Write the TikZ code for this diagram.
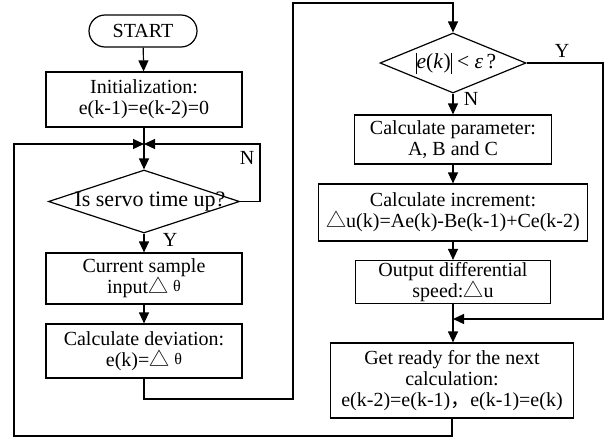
\documentclass[tikz,border=0pt]{standalone}
\usepackage{fontspec}
\setmainfont{Liberation Serif}
\newfontfamily\cjk{Noto Sans CJK SC}
\usetikzlibrary{shapes.geometric,arrows.meta}
\newcommand\tri{{\cjk △}}
\newcommand\thet{{\fontsize{16}{16}\selectfont\raisebox{2pt}{θ}}}
\newcommand\vbar{\rule[-5pt]{0.9pt}{21pt}}
\begin{document}
\begin{tikzpicture}[x=1pt,y=-1pt,
  font=\fontsize{20}{21}\selectfont,
  line width=1.2pt,
  box/.style={draw, inner sep=0pt, align=center},
  rbox/.style={draw, inner sep=0pt, rounded corners=16pt, minimum width=108pt, minimum height=32pt},
  dia/.style={draw, diamond, inner sep=0pt},
  txt/.style={inner sep=0pt},
  arr/.style={-{Triangle[length=11pt,width=10pt]}}]
\useasboundingbox (0,0) rectangle (610,439);

% left column
\node[rbox] (start) at (143,31) {START};
\node[box, minimum width=196pt, minimum height=55pt] (init) at (144,99.5) {Initialization:\\e(k-1)=e(k-2)=0};
\node[dia, minimum width=191pt, minimum height=63pt] (d1) at (144,201.5) {};
\node[txt, font=\fontsize{22}{23}\selectfont] (d1t) at (150,201.5) {Is servo time up?};
\node[box, minimum width=196pt, minimum height=51pt] (cur) at (144,278.5) {Current sample\\input\tri\hspace{5pt}\thet};
\node[box, minimum width=196pt, minimum height=54pt] (dev) at (144,351) {Calculate deviation:\\e(k)=\tri\hspace{5pt}\thet};

% right column
\node[dia, minimum width=146pt, minimum height=60pt] (d2) at (453,63) {};
\node[txt, font=\fontsize{21.5}{22}\selectfont] (d2t) at (456,63) {\vbar\textit{e}(\textit{k}\kern0.5pt)\vbar\ <\ \textit{ε}\,?};
\node[box, minimum width=197pt, minimum height=49pt] (par) at (453,139.5) {Calculate parameter:\\A, B and C};
\node[box, minimum width=269pt, minimum height=57pt] (inc) at (453,212.5) {Calculate increment:\\\tri u(k)=Ae(k)-Be(k-1)+Ce(k-2)};
\node[box, minimum width=195pt, minimum height=43pt] (out) at (453,282) {Output differential\\speed:\tri u};
\node[box, minimum width=243pt, minimum height=75pt] (get) at (452,380.5) {Get ready for the next\\calculation:\\e(k-2)=e(k-1){\cjk ，}e(k-1)=e(k)};

% helper coordinates
\coordinate (J1) at (144,144);
\coordinate (R1) at (260,144);
\coordinate (T1) at (293,399);
\coordinate (T2) at (293,3);
\coordinate (R2) at (603,319);
\coordinate (J2) at (453,319);
\coordinate (L1) at (14,436);

% connectors
\draw[arr] (start) -- (init);
\draw[arr] (init) -- (d1);
\draw[arr] (d1.east) -| (R1) -- (J1);
\draw[arr] (d1) -- (cur);
\draw[arr] (cur) -- (dev);
\draw[arr] (dev.south) |- (T1) -- (T2) -| (d2.north);
\draw[arr] (d2) -- (par);
\draw[arr] (par) -- (inc);
\draw[arr] (inc) -- (out);
\draw[arr] (out.south) -- (out.south |- get.north);
\draw[arr] (d2.east) -| (R2) -- (J2);
\draw[arr] (get.south) |- (L1) |- (J1);

% labels
\node[txt] (n1) at (247,158) {N};
\node[txt] (y1) at (170,240) {Y};
\node[txt] (n2) at (471,99) {N};
\node[txt] (y2) at (562,51) {Y};
\end{tikzpicture}
\end{document}
